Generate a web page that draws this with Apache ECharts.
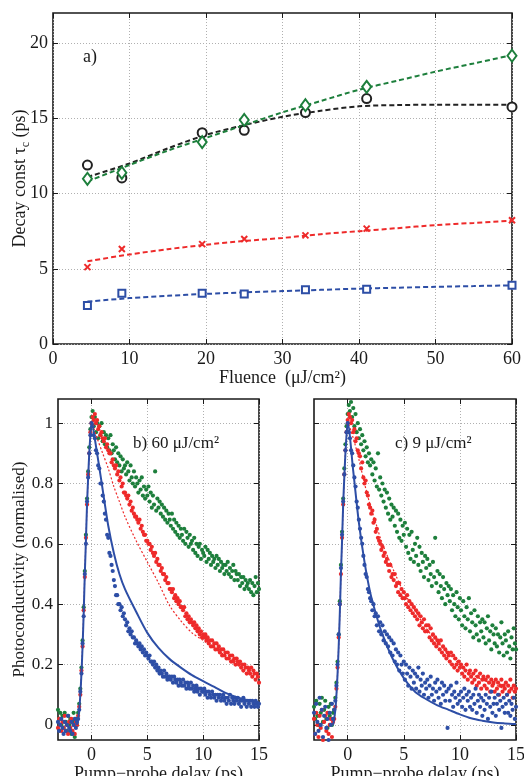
<!DOCTYPE html>
<html><head><meta charset="utf-8">
<script src="https://cdn.jsdelivr.net/npm/echarts@6/dist/echarts.min.js"></script>
<style>html,body{margin:0;padding:0;background:#fff}#c{width:524px;height:776px}</style>
</head><body><div id="c"></div><script>
// ---------- Panel a data ----------
const fluence = [4.5, 9, 19.5, 25, 33, 41, 60];
const tauBlack = [11.89, 11.04, 14.04, 14.2, 15.38, 16.31, 15.76];
const tauGreen = [10.98, 11.38, 13.42, 14.89, 15.87, 17.09, 19.16];
const tauRed = [5.11, 6.31, 6.64, 6.98, 7.22, 7.67, 8.22];
const tauBlue = [2.56, 3.38, 3.38, 3.33, 3.6, 3.64, 3.91];
const fitFluence = [4.5, 10, 15, 20, 25, 30, 35, 40, 45, 50, 55, 60];
const fitBlack = [11.1, 12.0, 13.0, 13.9, 14.55, 15.1, 15.5, 15.8, 15.88, 15.9, 15.9, 15.9];
const fitGreen = [10.8, 11.9, 12.85, 13.7, 14.55, 15.4, 16.15, 16.9, 17.5, 18.1, 18.65, 19.2];
const fitRed = [5.5, 5.95, 6.3, 6.6, 6.85, 7.05, 7.3, 7.5, 7.7, 7.9, 8.05, 8.2];
const fitBlue = [2.82, 3.05, 3.2, 3.33, 3.43, 3.52, 3.6, 3.68, 3.74, 3.8, 3.85, 3.9];
const fluenceTicks = [0, 10, 20, 30, 40, 50, 60];
const tauTicks = [0, 5, 10, 15, 20];

// ---------- Panels b, c data ----------
const delay = [
-3,-2.9,-2.8,-2.7,-2.6,-2.5,-2.4,-2.3,-2.2,-2.1,-2,-1.9,-1.8,-1.7,-1.6,-1.5,-1.4,-1.3,
-1.2,-1.1,-1,-0.9,-0.8,-0.7,-0.6,-0.5,-0.4,-0.3,-0.2,-0.1,0,
0.1,0.2,0.3,0.4,0.5,0.6,0.7,0.8,0.9,1,
1.1,1.2,1.3,1.4,1.5,1.6,1.7,1.8,1.9,2,
2.1,2.2,2.3,2.4,2.5,2.6,2.7,2.8,2.9,3,
3.1,3.2,3.3,3.4,3.5,3.6,3.7,3.8,3.9,4,
4.1,4.2,4.3,4.4,4.5,4.6,4.7,4.8,4.9,5,
5.1,5.2,5.3,5.4,5.5,5.6,5.7,5.8,5.9,6,
6.1,6.2,6.3,6.4,6.5,6.6,6.7,6.8,6.9,7,
7.1,7.2,7.3,7.4,7.5,7.6,7.7,7.8,7.9,8,
8.1,8.2,8.3,8.4,8.5,8.6,8.7,8.8,8.9,9,
9.1,9.2,9.3,9.4,9.5,9.6,9.7,9.8,9.9,10,
10.1,10.2,10.3,10.4,10.5,10.6,10.7,10.8,10.9,11,
11.1,11.2,11.3,11.4,11.5,11.6,11.7,11.8,11.9,12,
12.1,12.2,12.3,12.4,12.5,12.6,12.7,12.8,12.9,13,
13.1,13.2,13.3,13.4,13.5,13.6,13.7,13.8,13.9,14,
14.1,14.2,14.3,14.4,14.5,14.6,14.7,14.8,14.9,15];

const blueB = [
0.01,-0.02,0,0.02,-0.01,-0.03,0.01,-0.02,0,0.03,-0.01,-0.02,0.01,-0.03,0,0.02,-0.01,0.01,
0.02,0.05,0.11,0.17,0.27,0.36,0.5,0.6,0.74,0.82,0.9,0.96,1,
0.99,0.96,0.95,0.91,0.9,0.86,0.85,0.8,0.8,0.76,
0.74,0.7,0.68,0.63,0.62,0.57,0.56,0.53,0.51,0.48,
0.46,0.43,0.43,0.4,0.4,0.38,0.39,0.36,0.37,0.35,
0.33,0.34,0.31,0.32,0.3,0.31,0.29,0.29,0.27,0.28,
0.27,0.26,0.27,0.25,0.26,0.24,0.25,0.23,0.24,0.23,
0.22,0.23,0.21,0.21,0.2,0.21,0.19,0.2,0.18,0.19,
0.17,0.18,0.17,0.16,0.18,0.16,0.17,0.15,0.16,0.16,
0.15,0.16,0.14,0.16,0.15,0.14,0.15,0.13,0.15,0.14,
0.13,0.15,0.13,0.14,0.12,0.14,0.13,0.12,0.14,0.12,
0.13,0.11,0.12,0.13,0.11,0.12,0.1,0.12,0.11,0.11,
0.12,0.1,0.11,0.09,0.11,0.1,0.09,0.11,0.1,0.09,
0.1,0.08,0.1,0.09,0.1,0.08,0.09,0.1,0.08,0.09,
0.07,0.09,0.08,0.1,0.07,0.09,0.08,0.07,0.09,0.08,
0.09,0.07,0.08,0.06,0.08,0.09,0.07,0.08,0.06,0.08,
0.07,0.08,0.06,0.08,0.07,0.06,0.08,0.07,0.06,0.07];

const redB = [
-0.01,0.02,0,-0.02,0.01,-0.01,0.03,-0.02,0,-0.03,0.01,-0.01,0.02,-0.02,0,-0.03,0.01,0,
0.03,0.06,0.1,0.18,0.26,0.38,0.49,0.62,0.73,0.83,0.9,0.97,1,
1.02,1.01,1.03,1,1.01,0.98,0.99,0.96,0.97,0.95,
0.94,0.95,0.92,0.93,0.91,0.9,0.9,0.87,0.88,0.86,
0.85,0.86,0.83,0.84,0.81,0.82,0.79,0.8,0.77,0.77,
0.76,0.75,0.76,0.73,0.74,0.71,0.72,0.7,0.69,0.69,
0.68,0.67,0.68,0.65,0.66,0.64,0.63,0.63,0.61,0.61,
0.6,0.6,0.58,0.59,0.57,0.56,0.57,0.54,0.55,0.53,
0.53,0.51,0.52,0.5,0.5,0.48,0.49,0.47,0.47,0.45,
0.45,0.44,0.45,0.42,0.43,0.41,0.42,0.4,0.41,0.39,
0.39,0.38,0.39,0.36,0.37,0.35,0.36,0.34,0.35,0.34,
0.33,0.34,0.32,0.33,0.31,0.32,0.3,0.31,0.29,0.3,
0.29,0.3,0.28,0.29,0.27,0.28,0.26,0.28,0.26,0.27,
0.25,0.27,0.25,0.26,0.24,0.25,0.23,0.25,0.23,0.24,
0.22,0.24,0.22,0.23,0.21,0.23,0.21,0.22,0.2,0.22,
0.21,0.2,0.21,0.19,0.2,0.18,0.2,0.19,0.17,0.19,
0.18,0.17,0.19,0.16,0.18,0.17,0.15,0.17,0.16,0.14];

const greenB = [
0.05,0.02,0.04,0,0.03,-0.01,0.04,0.01,-0.02,0.03,0,0.02,-0.03,0.01,0.04,-0.04,0.02,0,
0.04,0.07,0.12,0.19,0.28,0.39,0.51,0.63,0.75,0.84,0.92,0.98,1.02,
1.04,0.99,1.02,0.97,1,0.95,0.99,0.96,1,0.94,
0.97,0.93,0.96,0.92,0.95,0.91,0.96,0.9,0.93,0.91,
0.88,0.92,0.87,0.9,0.86,0.89,0.84,0.88,0.85,0.86,
0.83,0.87,0.84,0.81,0.86,0.82,0.8,0.84,0.79,0.82,
0.8,0.77,0.81,0.78,0.82,0.76,0.79,0.75,0.78,0.76,
0.79,0.74,0.77,0.72,0.76,0.73,0.84,0.71,0.75,0.72,
0.74,0.7,0.73,0.69,0.72,0.68,0.71,0.67,0.7,0.68,
0.66,0.7,0.65,0.68,0.64,0.67,0.63,0.66,0.62,0.65,
0.63,0.61,0.65,0.6,0.64,0.62,0.59,0.63,0.6,0.61,
0.58,0.62,0.57,0.6,0.56,0.59,0.6,0.55,0.58,0.57,
0.56,0.59,0.54,0.58,0.55,0.57,0.53,0.56,0.54,0.55,
0.52,0.56,0.53,0.55,0.51,0.54,0.52,0.53,0.5,0.53,
0.51,0.54,0.5,0.52,0.49,0.51,0.53,0.48,0.51,0.5,
0.48,0.5,0.46,0.49,0.47,0.49,0.45,0.48,0.46,0.47,
0.45,0.48,0.44,0.47,0.43,0.46,0.49,0.44,0.47,0.45];

const blueC = [
0.04,-0.03,0.07,0.01,-0.02,0.09,0,0.05,-0.04,0.03,0.06,-0.01,0.02,-0.05,0.04,0,0.07,0.02,
0.05,0.08,0.13,0.2,0.3,0.4,0.52,0.63,0.74,0.83,0.91,0.97,1,
0.97,0.95,0.91,0.9,0.86,0.82,0.79,0.74,0.72,0.68,
0.65,0.62,0.6,0.56,0.53,0.5,0.49,0.45,0.44,0.42,
0.41,0.38,0.4,0.36,0.37,0.33,0.36,0.31,0.34,0.3,
0.33,0.28,0.31,0.27,0.3,0.26,0.29,0.24,0.28,0.23,
0.27,0.21,0.25,0.2,0.24,0.18,0.23,0.2,0.17,0.21,
0.15,0.2,0.17,0.13,0.19,0.16,0.12,0.18,0.14,0.17,
0.12,0.16,0.19,0.11,0.15,0.13,0.17,0.1,0.14,0.12,
0.15,0.09,0.13,0.16,0.1,0.12,0.08,0.14,0.11,0.15,
0.09,0.12,0.07,0.14,0.1,0.13,0.08,0.11,-0.01,0.12,
0.08,0.13,0.1,0.06,0.11,0.09,0.14,0.07,0.1,0.08,
0.11,0.06,0.09,0.12,0.05,0.1,0.08,0.11,0.06,0.09,
0.05,0.1,0.07,0.12,0.04,0.08,0.1,0.06,0.09,0.03,
0.08,0.05,0.1,0.07,0.02,0.09,0.06,0.11,0.04,0.07,
0.09,0.03,0.07,0.1,0.05,0.08,-0.01,0.06,0.09,0.04,
0.07,0.1,0.04,0.08,0.03,0.07,0.05,0.09,0.02,0.06];

const redC = [
0.02,-0.03,0.04,0,-0.04,0.03,-0.01,0.05,-0.05,0.01,0.03,-0.02,0.04,-0.03,0,0.02,-0.04,0.01,
0.02,0.06,0.12,0.19,0.29,0.4,0.5,0.62,0.73,0.83,0.91,0.97,1.01,
1.03,1.02,1,1.01,0.97,0.98,0.94,0.95,0.91,0.9,
0.89,0.85,0.87,0.82,0.8,0.81,0.77,0.76,0.73,0.72,
0.7,0.71,0.67,0.68,0.64,0.65,0.62,0.61,0.6,0.58,
0.59,0.56,0.57,0.54,0.55,0.53,0.51,0.53,0.49,0.5,
0.48,0.5,0.46,0.47,0.44,0.47,0.43,0.45,0.42,0.44,
0.42,0.4,0.43,0.39,0.41,0.38,0.4,0.37,0.39,0.36,
0.38,0.35,0.37,0.33,0.36,0.34,0.32,0.35,0.31,0.33,
0.31,0.33,0.29,0.32,0.28,0.3,0.27,0.29,0.26,0.28,
0.27,0.25,0.28,0.24,0.26,0.23,0.25,0.22,0.24,0.23,
0.21,0.24,0.2,0.23,0.19,0.22,0.2,0.18,0.21,0.19,
0.2,0.17,0.19,0.16,0.18,0.2,0.15,0.17,0.18,0.16,
0.14,0.17,0.15,0.18,0.13,0.16,0.14,0.17,0.12,0.15,
0.16,0.13,0.15,0.12,0.16,0.14,0.11,0.15,0.13,0.14,
0.11,0.15,0.12,0.14,0.1,0.13,0.15,0.11,0.13,0.12,
0.14,0.1,0.13,0.11,0.15,0.12,0.09,0.13,0.11,0.12];

const greenC = [
0.06,0.02,0.08,0.03,0,0.07,0.04,0.09,0.01,0.05,0.08,0.02,-0.01,0.06,0.03,0.07,0,0.04,
0.05,0.09,0.14,0.21,0.3,0.41,0.53,0.64,0.75,0.85,0.93,0.99,1.03,
1.06,1.04,1.07,1.02,1.05,0.99,1.03,0.97,1,0.95,
0.98,0.93,0.96,0.91,0.94,0.89,0.92,0.87,0.9,0.86,
0.88,0.83,0.87,0.81,0.85,0.79,0.9,0.78,0.82,0.76,
0.8,0.74,0.78,0.72,0.77,0.7,0.75,0.68,0.73,0.69,
0.72,0.66,0.71,0.64,0.7,0.62,0.68,0.61,0.66,0.63,
0.67,0.59,0.65,0.57,0.63,0.55,0.64,0.58,0.54,0.6,
0.56,0.62,0.53,0.59,0.51,0.57,0.54,0.49,0.56,0.52,
0.55,0.48,0.53,0.5,0.46,0.54,0.49,0.62,0.47,0.51,
0.44,0.5,0.46,0.42,0.49,0.45,0.4,0.47,0.43,0.46,
0.41,0.45,0.38,0.43,0.4,0.36,0.44,0.39,0.35,0.42,
0.38,0.33,0.41,0.36,0.32,0.39,0.35,0.42,0.31,0.37,
0.34,0.29,0.38,0.33,0.3,0.36,0.28,0.34,0.31,0.35,
0.29,0.34,0.27,0.32,0.36,0.28,0.31,0.25,0.33,0.3,
0.27,0.32,0.26,0.3,0.24,0.29,0.34,0.27,0.23,0.3,
0.28,0.24,0.31,0.26,0.22,0.29,0.25,0.32,0.27,0.25];

const fitDelay = [-1.3,-1.2,-1.1,-1,-0.9,-0.8,-0.7,-0.6,-0.5,-0.4,-0.3,-0.2,-0.1,0,0.5,1,1.5,2,2.5,3,4,5,6,7,8,9,10,11,12,13,14,15];
const blueFitB = [0,0.02,0.05,0.1,0.17,0.26,0.37,0.5,0.61,0.73,0.82,0.9,0.96,1,0.9,0.78,0.66,0.57,0.5,0.45,0.375,0.305,0.255,0.218,0.19,0.165,0.145,0.126,0.106,0.092,0.082,0.075];
const redFitB = [0,0.02,0.05,0.1,0.17,0.26,0.37,0.5,0.61,0.73,0.82,0.9,0.96,1,0.95,0.9,0.85,0.79,0.74,0.69,0.61,0.54,0.47,0.395,0.345,0.305,0.28,0.255,0.23,0.21,0.19,0.17];
const blueFitC = [0,0.02,0.05,0.1,0.17,0.26,0.37,0.5,0.61,0.73,0.82,0.9,0.96,1,0.84,0.67,0.54,0.44,0.37,0.31,0.22,0.155,0.11,0.085,0.065,0.05,0.035,0.022,0.014,0.008,0.005,0.003];
const redFitC = [0,0.02,0.05,0.1,0.17,0.26,0.37,0.5,0.61,0.73,0.82,0.9,0.96,1,0.95,0.88,0.8,0.73,0.67,0.61,0.52,0.44,0.38,0.32,0.275,0.235,0.2,0.17,0.15,0.135,0.12,0.11];
const delayTicks = [0, 5, 10, 15];
const pcTicks = [0, 0.2, 0.4, 0.6, 0.8, 1];

// ---------- styling ----------
const FONT = '"Liberation Serif", "Times New Roman", serif';
const INK = '#1a1a1a';
const C_GREEN = '#1d7f3c', C_RED = '#ee2a2a', C_BLUE = '#2d4ea6', C_BLACK = '#222';
const gridLine = {show: true, lineStyle: {color: '#b0b0b0', width: 1, type: [1, 2]}};
const tickStyle = {color: INK, width: 1};

function pair(xs, ys) { return xs.map((x, i) => [x, ys[i]]); }

function xAxes(gi, min, max, ticks, fs, name, gap) {
  return [
    {type: 'value', gridIndex: gi, min: min, max: max, position: 'bottom',
     axisLine: {show: false, onZero: false},
     axisTick: {show: true, inside: true, length: 5, customValues: ticks, lineStyle: tickStyle},
     axisLabel: {show: true, customValues: ticks, margin: 6, fontFamily: FONT, fontSize: fs, color: INK},
     splitLine: gridLine,
     name: name, nameLocation: 'middle', nameGap: gap,
     nameTextStyle: {fontFamily: FONT, fontSize: fs, color: INK}},
    {type: 'value', gridIndex: gi, min: min, max: max, position: 'top',
     axisLine: {show: false, onZero: false},
     axisTick: {show: true, inside: true, length: 5, customValues: ticks, lineStyle: tickStyle},
     axisLabel: {show: false}, splitLine: {show: false}}
  ];
}
function yAxes(gi, min, max, ticks, fs, showLabel, name, gap) {
  return [
    {type: 'value', gridIndex: gi, min: min, max: max, position: 'left',
     axisLine: {show: false, onZero: false},
     axisTick: {show: true, inside: true, length: 5, customValues: ticks, lineStyle: tickStyle},
     axisLabel: {show: showLabel, customValues: ticks, margin: 5, fontFamily: FONT, fontSize: fs, color: INK},
     splitLine: gridLine,
     name: name, nameLocation: 'middle', nameGap: gap, nameRotate: 90, nameMoveOverlap: false,
     nameTextStyle: {fontFamily: FONT, fontSize: fs, color: INK, lineHeight: 24,
       rich: {s: {fontFamily: FONT, fontSize: 12, color: INK, verticalAlign: 'bottom', lineHeight: 24}}}},
    {type: 'value', gridIndex: gi, min: min, max: max, position: 'right',
     axisLine: {show: false, onZero: false},
     axisTick: {show: true, inside: true, length: 5, customValues: ticks, lineStyle: tickStyle},
     axisLabel: {show: false}, splitLine: {show: false}}
  ];
}

const gridBase = {show: true, borderColor: INK, borderWidth: 1.6, backgroundColor: '#fff', containLabel: false, outerBoundsMode: 'none'};

function dashLine(xi, yi, xs, ys, color, dash, width) {
  return {type: 'line', xAxisIndex: xi, yAxisIndex: yi, data: pair(xs, ys), showSymbol: false,
    symbol: 'none', smooth: 0.3, silent: true, z: 3,
    lineStyle: {color: color, width: width, type: dash, opacity: 1}};
}
function dots(xi, yi, ys, color) {
  return {type: 'scatter', xAxisIndex: xi, yAxisIndex: yi, data: pair(delay, ys), symbol: 'circle',
    symbolSize: 4.2, itemStyle: {color: color, opacity: 1}, silent: true, clip: true, z: 2};
}

const option = {
  animation: false,
  backgroundColor: '#fff',
  grid: [
    Object.assign({left: 53, right: 12, top: 13, bottom: 432}, gridBase),
    Object.assign({left: 58, right: 265, top: 399, bottom: 36}, gridBase),
    Object.assign({left: 314, right: 8, top: 399, bottom: 36}, gridBase)
  ],
  xAxis: [].concat(
    xAxes(0, 0, 60, fluenceTicks, 18, 'Fluence  (μJ/cm²)', 24),
    xAxes(1, -3, 15, delayTicks, 18, 'Pump−probe delay (ps)', 20),
    xAxes(2, -3, 15, delayTicks, 18, 'Pump−probe delay (ps)', 20)
  ),
  yAxis: [].concat(
    yAxes(0, 0, 22, tauTicks, 18, true, 'Decay const τ{s|c} (ps)', 21),
    yAxes(1, -0.05, 1.08, pcTicks, 17, true, 'Photoconductivity (normalised)', 26),
    yAxes(2, -0.05, 1.08, pcTicks, 17, false, '', 20)
  ),
  graphic: [
    {type: 'text', left: 83, top: 48, style: {text: 'a)', fontFamily: FONT, fontSize: 18, fill: INK}, z: 10},
    {type: 'text', left: 133, top: 435, style: {text: 'b) 60 μJ/cm²', fontFamily: FONT, fontSize: 17, fill: INK}, z: 10},
    {type: 'text', left: 395, top: 435, style: {text: 'c) 9 μJ/cm²', fontFamily: FONT, fontSize: 17, fill: INK}, z: 10}
  ],
  series: [
    dashLine(0, 0, fitFluence, fitBlack, C_BLACK, [5, 3], 2),
    dashLine(0, 0, fitFluence, fitGreen, C_GREEN, [5, 3], 2),
    dashLine(0, 0, fitFluence, fitRed, C_RED, [5, 3], 2),
    dashLine(0, 0, fitFluence, fitBlue, C_BLUE, [5, 3], 2),
    {type: 'scatter', xAxisIndex: 0, yAxisIndex: 0, data: pair(fluence, tauBlack), symbol: 'emptyCircle', symbolSize: 9,
     itemStyle: {color: C_BLACK, borderColor: C_BLACK, borderWidth: 1.6, opacity: 1}, z: 5},
    {type: 'scatter', xAxisIndex: 0, yAxisIndex: 0, data: pair(fluence, tauGreen), symbol: 'emptyDiamond', symbolSize: [9, 12],
     itemStyle: {color: C_GREEN, borderColor: C_GREEN, borderWidth: 1.6, opacity: 1}, z: 5},
    {type: 'scatter', xAxisIndex: 0, yAxisIndex: 0, data: pair(fluence, tauRed), symbol: 'path://M0,0L10,10M10,0L0,10', symbolSize: 6,
     itemStyle: {color: 'none', borderColor: C_RED, borderWidth: 2, opacity: 1}, z: 5},
    {type: 'scatter', xAxisIndex: 0, yAxisIndex: 0, data: pair(fluence, tauBlue), symbol: 'emptyRect', symbolSize: 7,
     itemStyle: {color: C_BLUE, borderColor: C_BLUE, borderWidth: 1.6, opacity: 1}, z: 5},

    dots(2, 2, greenB, C_GREEN),
    dots(2, 2, redB, C_RED),
    dots(2, 2, blueB, C_BLUE),
    dashLine(2, 2, fitDelay, redFitB, C_RED, [2, 2], 1.2),
    dashLine(2, 2, fitDelay, blueFitB, C_BLUE, 'solid', 2),

    dots(4, 4, greenC, C_GREEN),
    dots(4, 4, redC, C_RED),
    dots(4, 4, blueC, C_BLUE),
    dashLine(4, 4, fitDelay, redFitC, C_RED, [2, 2], 1.2),
    dashLine(4, 4, fitDelay, blueFitC, C_BLUE, 'solid', 2)
  ]
};
const chart = echarts.init(document.getElementById('c'), null, {renderer: 'canvas'});
chart.setOption(option);
</script></body></html>
